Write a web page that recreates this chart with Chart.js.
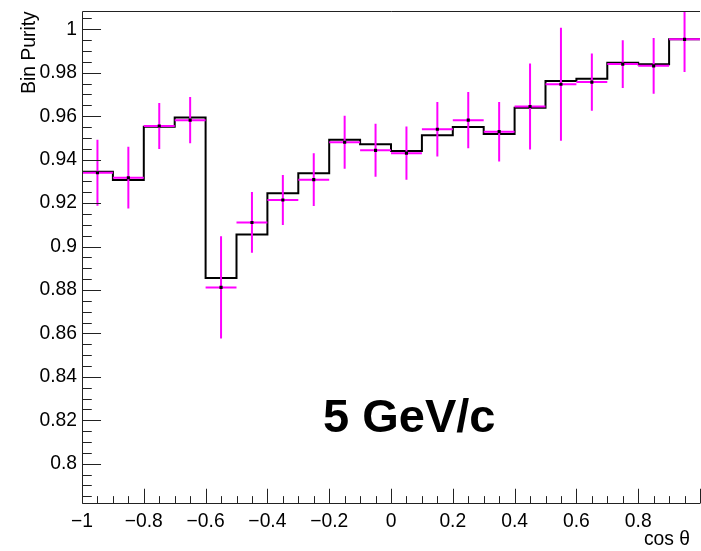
<!DOCTYPE html>
<html>
<head>
<meta charset="utf-8">
<script src="https://cdn.jsdelivr.net/npm/chart.js@4/dist/chart.umd.min.js"></script>
<style>
  html, body { margin: 0; padding: 0; background: #fff; overflow: hidden; }
  #wrap { width: 701px; height: 551px; overflow: hidden; }
</style>
</head>
<body>
<div id="wrap"><canvas id="purity" width="704" height="551"></canvas></div>
<script>
// cos(theta) bins, width 0.1
const binEdges = [-1, -0.9, -0.8, -0.7, -0.6, -0.5, -0.4, -0.3, -0.2, -0.1,
                  0, 0.1, 0.2, 0.3, 0.4, 0.5, 0.6, 0.7, 0.8, 0.9, 1];
const binCenters = [-0.95, -0.85, -0.75, -0.65, -0.55, -0.45, -0.35, -0.25, -0.15, -0.05,
                    0.05, 0.15, 0.25, 0.35, 0.45, 0.55, 0.65, 0.75, 0.85, 0.95];

// reference histogram (black steps)
const histPurity = [0.9344, 0.9306, 0.9552, 0.9594, 0.8855, 0.9056, 0.9245, 0.9338, 0.9492, 0.9471,
                    0.9440, 0.9512, 0.9550, 0.9518, 0.9639, 0.9762, 0.9773, 0.9846, 0.9839, 0.9954];

// measured purity with errors (magenta)
const purity = [0.9340, 0.9317, 0.9555, 0.9582, 0.8812, 0.9111, 0.9214, 0.9308, 0.9480, 0.9443,
                0.9430, 0.9540, 0.9582, 0.9529, 0.9645, 0.9747, 0.9757, 0.9840, 0.9832, 0.9954];
const purityErr = [0.0152, 0.0142, 0.0106, 0.0107, 0.0235, 0.0140, 0.0115, 0.0121, 0.0122, 0.0122,
                   0.0123, 0.0125, 0.0130, 0.0137, 0.0198, 0.0260, 0.0132, 0.0110, 0.0128, 0.0150];

const xTicks = [-1, -0.8, -0.6, -0.4, -0.2, 0, 0.2, 0.4, 0.6, 0.8];
const yTicks = [0.8, 0.82, 0.84, 0.86, 0.88, 0.9, 0.92, 0.94, 0.96, 0.98, 1];

const FONT = "'Liberation Sans', Arial, Helvetica, sans-serif";
const LABEL_SIZE = 19.3;
Chart.defaults.font.family = FONT;
Chart.defaults.color = "#000";

// step line: left edge of each bin, plus the closing edge
const histPoints = histPurity.map((v, i) => ({ x: binEdges[i], y: v }));
histPoints.push({ x: binEdges[binEdges.length - 1], y: histPurity[histPurity.length - 1] });

const pointData = purity.map((v, i) => ({ x: binCenters[i], y: v }));

// magenta error crosses, drawn under the black markers
const errorBars = {
  id: "errorBars",
  beforeDatasetDraw(chart, args) {
    if (args.index !== 0) return;
    const xs = chart.scales.x, ys = chart.scales.y, a = chart.chartArea;
    const ctx = chart.ctx;
    ctx.save();
    ctx.beginPath();
    ctx.rect(a.left, a.top, a.right - a.left, a.bottom - a.top);
    ctx.clip();
    ctx.strokeStyle = "#ff00ff";
    ctx.lineWidth = 2;
    purity.forEach((v, i) => {
      const px = xs.getPixelForValue(binCenters[i]);
      const py = ys.getPixelForValue(v);
      ctx.beginPath();
      ctx.moveTo(px, ys.getPixelForValue(v + purityErr[i]));
      ctx.lineTo(px, ys.getPixelForValue(v - purityErr[i]));
      ctx.moveTo(xs.getPixelForValue(binEdges[i]), py);
      ctx.lineTo(xs.getPixelForValue(binEdges[i + 1]), py);
      ctx.stroke();
    });
    ctx.restore();
  }
};

// ROOT-like frame with ticks inside, plus text
const frame = {
  id: "frame",
  afterDraw(chart) {
    const ctx = chart.ctx, a = chart.chartArea;
    const xs = chart.scales.x, ys = chart.scales.y;
    const W = a.right - a.left, H = a.bottom - a.top;
    ctx.save();
    ctx.strokeStyle = "#222";
    ctx.lineWidth = 1;
    const L = Math.round(a.left) + 0.5, B = Math.round(a.bottom) + 0.5, T = Math.round(a.top) + 0.5;
    ctx.beginPath();
    ctx.moveTo(a.right, T); ctx.lineTo(L, T); ctx.lineTo(L, B); ctx.lineTo(a.right, B);
    ctx.stroke();

    // y ticks: majors every 0.02, minors every 0.005
    ctx.beginPath();
    for (let k = 0; k <= 50; k++) {
      const v = 0.78 + k * 0.005;
      if (v < ys.min || v > ys.max) continue;
      const major = Math.abs(Math.round(v * 50) - v * 50) < 1e-6;
      const len = major ? 0.03 * W : 0.015 * W;
      const y = Math.round(ys.getPixelForValue(v)) + 0.5;
      ctx.moveTo(L, y); ctx.lineTo(L + len, y);
    }
    // x ticks: majors every 0.2, minors every 0.05
    for (let k = 0; k <= 40; k++) {
      const v = -1 + k * 0.05;
      const major = k % 4 === 0;
      const len = major ? 0.03 * H : 0.015 * H;
      const x = Math.round(xs.getPixelForValue(v)) + 0.5;
      ctx.moveTo(x, B); ctx.lineTo(x, B - len);
    }
    ctx.stroke();

    ctx.fillStyle = "#000";
    ctx.font = LABEL_SIZE + "px " + FONT;
    ctx.textAlign = "right";
    ctx.textBaseline = "alphabetic";
    ctx.fillText("cos \u03b8", 690, 545);

    ctx.save();
    ctx.translate(34.5, a.top);
    ctx.rotate(-Math.PI / 2);
    ctx.textAlign = "right";
    ctx.fillText("Bin Purity", 0, 0);
    ctx.restore();

    ctx.font = "bold 47px " + FONT;
    ctx.textAlign = "left";
    ctx.fillText("5 GeV/c", 323, 432);
    ctx.restore();
  }
};

new Chart(document.getElementById("purity"), {
  type: "line",
  data: {
    datasets: [
      {
        label: "purity",
        data: pointData,
        showLine: false,
        pointStyle: "rect",
        pointRadius: 2.2,
        pointBorderWidth: 0,
        pointBackgroundColor: "#000",
        borderColor: "#000"
      },
      {
        label: "hist",
        data: histPoints,
        stepped: "before",
        borderColor: "#000",
        borderWidth: 2,
        pointRadius: 0,
        fill: false
      }
    ]
  },
  options: {
    responsive: false,
    animation: false,
    devicePixelRatio: 1,
    layout: { padding: { top: 11.3, right: 1, bottom: 0, left: 0 } },
    plugins: { legend: { display: false }, tooltip: { enabled: false } },
    scales: {
      x: {
        type: "linear",
        min: -1,
        max: 1,
        grid: { display: false, drawTicks: false },
        border: { display: false },
        ticks: {
          padding: 6.5,
          maxRotation: 0,
          autoSkip: false,
          font: { size: LABEL_SIZE },
          callback: v => (v < 0 ? "\u2212" : "") + String(Math.abs(+v.toFixed(2)))
        },
        afterBuildTicks: s => { s.ticks = xTicks.map(v => ({ value: v })); },
        afterFit: s => { s.height = 47.7; s.paddingLeft = 0; s.paddingRight = 0; }
      },
      y: {
        type: "linear",
        min: 0.7818,
        max: 1.0083,
        grid: { display: false, drawTicks: false },
        border: { display: false },
        ticks: {
          padding: 5,
          autoSkip: false,
          font: { size: LABEL_SIZE },
          callback: v => String(+v.toFixed(2))
        },
        afterBuildTicks: s => { s.ticks = yTicks.map(v => ({ value: v })); },
        afterFit: s => { s.width = 82; s.paddingTop = 0; s.paddingBottom = 0; }
      }
    }
  },
  plugins: [errorBars, frame]
});
</script>
</body>
</html>
